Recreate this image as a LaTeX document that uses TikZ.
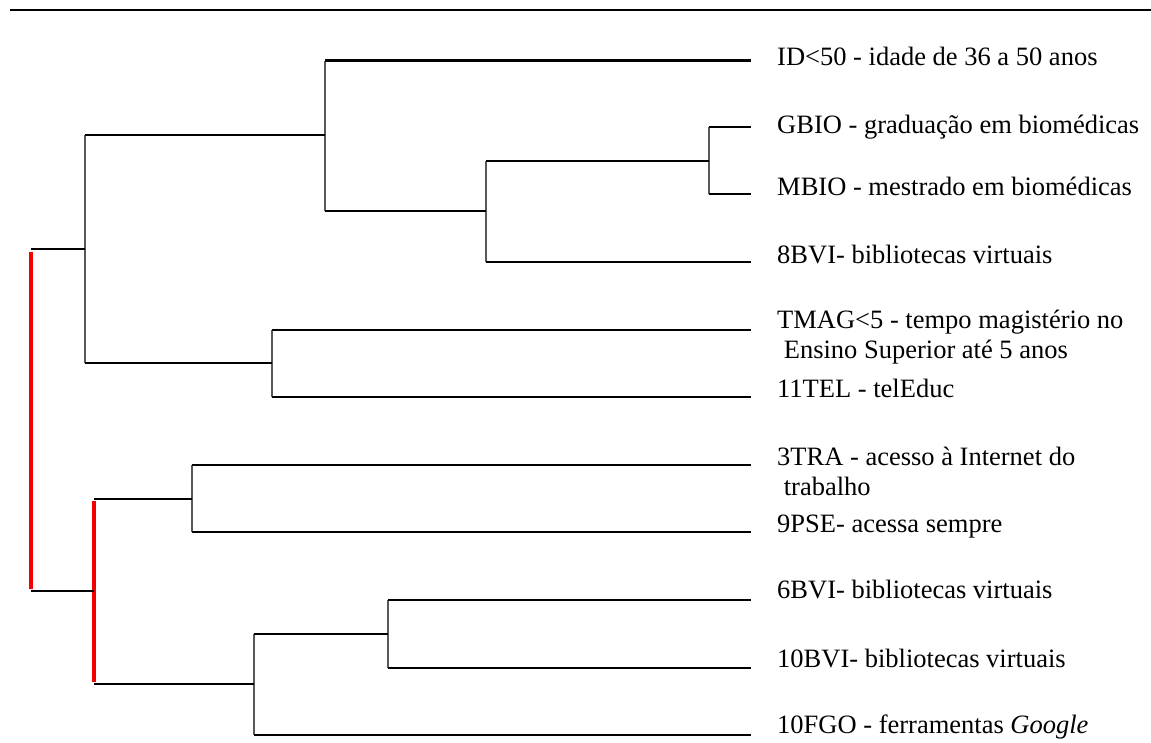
\documentclass[tikz,border=0pt]{standalone}
\usepackage{fontspec}
\setmainfont{Liberation Serif}
\begin{document}
\begin{tikzpicture}[x=1pt,y=-1pt,
  hline/.style={line width=2.8pt,black},
  vline/.style={line width=1.3pt,black!65},
  redline/.style={line width=3.2pt,red!95!black},
  rule/.style={line width=2.8pt,black},
  lab/.style={anchor=base west,inner sep=0pt,align=left,font=\fontsize{26.5}{30}\selectfont}]
\useasboundingbox (0,0) rectangle (1151,742);
\fill[white] (0,0) rectangle (1151,742);
% top rule
\coordinate (r1) at (10,10);
\coordinate (r2) at (1151,10);
\draw[rule] (r1) -- (r2);
% leaf ends
\coordinate (L1) at (751,60.5);
\coordinate (L2) at (751,127);
\coordinate (L3) at (751,194);
\coordinate (L4) at (751,262);
\coordinate (L5) at (751,330);
\coordinate (L6) at (751,397);
\coordinate (L7) at (751,465);
\coordinate (L8) at (751,532);
\coordinate (L9) at (751,600);
\coordinate (L10) at (751,668);
\coordinate (L11) at (751,735);
% joins
\coordinate (A) at (709,161);
\coordinate (B) at (486,211);
\coordinate (C) at (325,135);
\coordinate (D) at (272,363);
\coordinate (E) at (85,249);
\coordinate (F) at (192,499);
\coordinate (G) at (388,634);
\coordinate (H) at (254,684);
\coordinate (I) at (94,591);
\coordinate (J) at (31,420);
% verticals
\draw[vline] (A |- L2) -- (A |- L3);
\draw[vline] (B |- A) -- (B |- L4);
\draw[vline] (C |- L1) -- (C |- B);
\draw[vline] (D |- L5) -- (D |- L6);
\draw[vline] (E |- C) -- (E |- D);
\draw[vline] (F |- L7) -- (F |- L8);
\draw[vline] (G |- L9) -- (G |- L10);
\draw[vline] (H |- G) -- (H |- L11);
\draw[redline] ([yshift=-2pt]I |- F) -- ([yshift=2pt]I |- H);
\draw[redline] ([yshift=-3pt]J |- E) -- ([yshift=2pt]J |- I);
% horizontals
\draw[hline] (A |- L2) -- (L2);
\draw[hline] (A |- L3) -- (L3);
\draw[hline] (B |- A) -- (A);
\draw[hline] (B |- L4) -- (L4);
\draw[hline] (C |- L1) -- (L1);
\draw[hline] (C |- B) -- (B);
\draw[hline] (D |- L5) -- (L5);
\draw[hline] (D |- L6) -- (L6);
\draw[hline] (E |- C) -- (C);
\draw[hline] (E |- D) -- (D);
\draw[hline] (F |- L7) -- (L7);
\draw[hline] (F |- L8) -- (L8);
\draw[hline] (G |- L9) -- (L9);
\draw[hline] (G |- L10) -- (L10);
\draw[hline] (H |- G) -- (G);
\draw[hline] (H |- L11) -- (L11);
\draw[hline] (I |- F) -- (F);
\draw[hline] (I |- H) -- (H);
\draw[hline] (J |- E) -- (E);
\draw[hline] (J |- I) -- (I);
% labels
\node[lab] (t1) at (777,65) {ID<50 - idade de 36 a 50 anos};
\node[lab] (t2) at (777,133) {GBIO - graduação em biomédicas};
\node[lab] (t3) at (777,195) {MBIO - mestrado em biomédicas};
\node[lab] (t4) at (777,263) {8BVI- bibliotecas virtuais};
\node[lab] (t5) at (777,358) {TMAG<5 - tempo magistério no\\\ Ensino Superior até 5 anos};
\node[lab] (t6) at (777,397) {11TEL - telEduc};
\node[lab] (t7) at (777,495) {3TRA - acesso à Internet do\\\ trabalho};
\node[lab] (t8) at (777,532) {9PSE- acessa sempre};
\node[lab] (t9) at (777,598) {6BVI- bibliotecas virtuais};
\node[lab] (t10) at (777,667) {10BVI- bibliotecas virtuais};
\node[lab] (t11) at (777,733) {10FGO - ferramentas \textit{Google}};
\end{tikzpicture}
\end{document}
